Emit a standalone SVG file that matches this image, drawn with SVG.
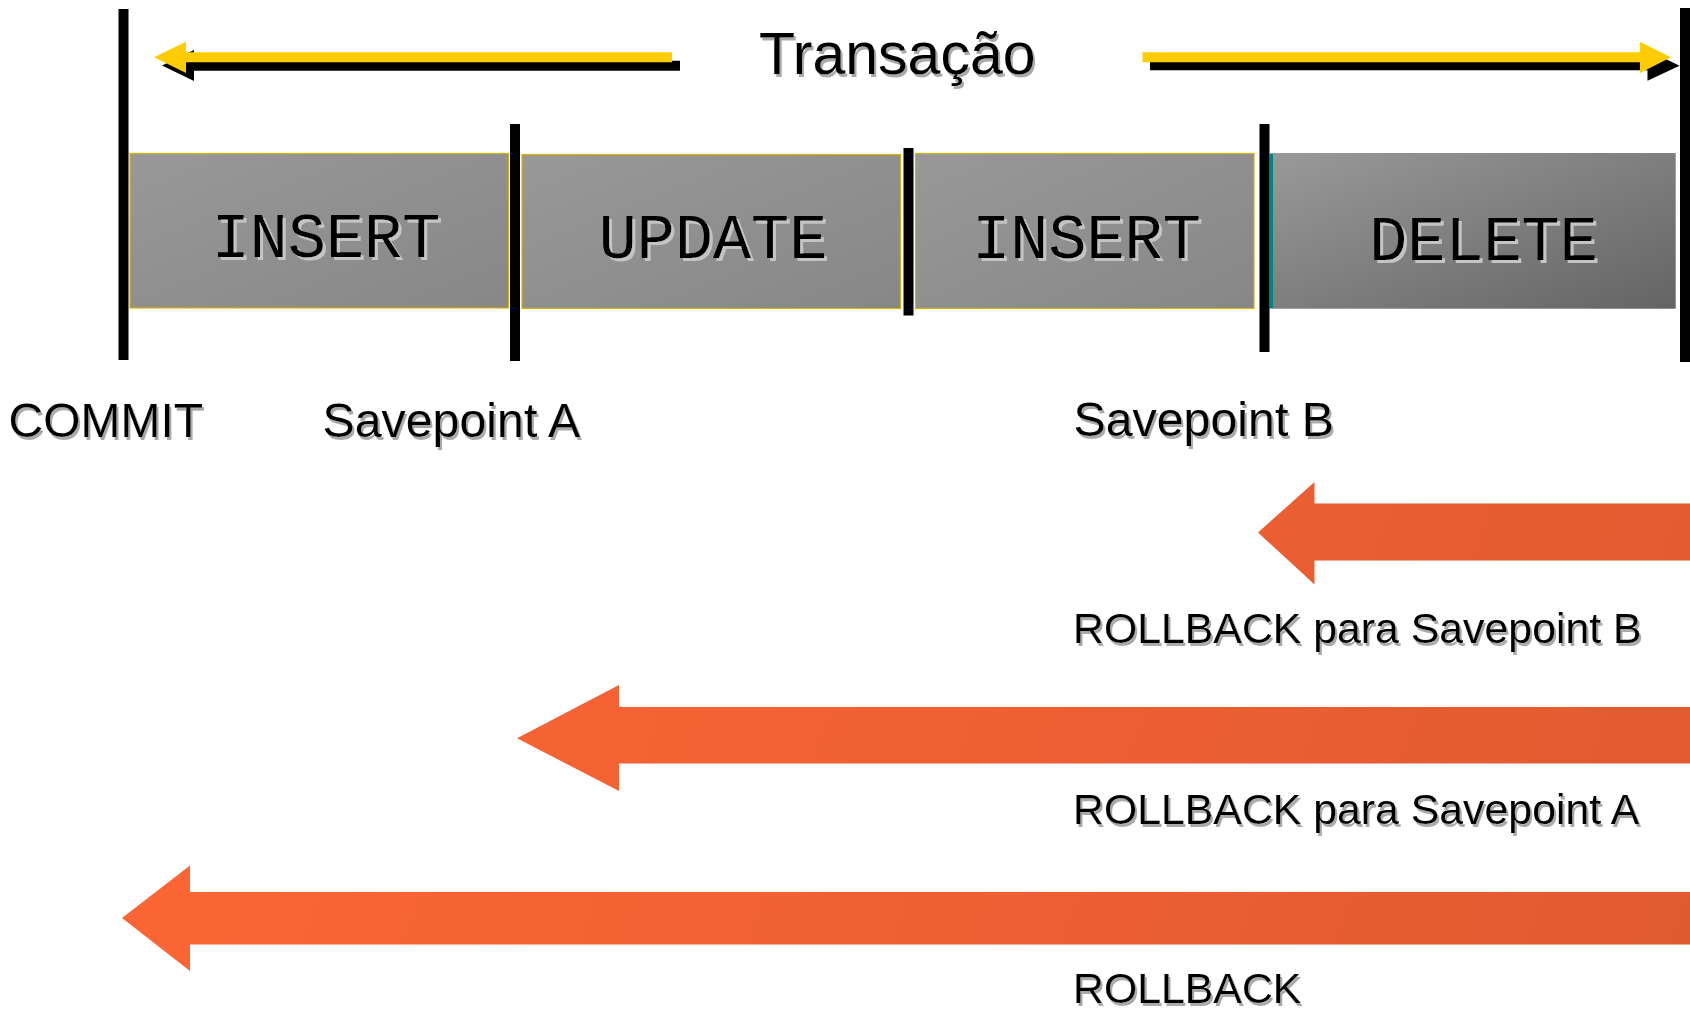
<svg xmlns="http://www.w3.org/2000/svg" width="1690" height="1010" viewBox="0 0 1690 1010">
<defs>
<linearGradient id="gBox" x1="0" y1="0" x2="1" y2="1">
<stop offset="0" stop-color="#989898"/>
<stop offset="1" stop-color="#878787"/>
</linearGradient>
<linearGradient id="gDel" x1="0" y1="0" x2="1" y2="1">
<stop offset="0" stop-color="#999999"/>
<stop offset="1" stop-color="#646464"/>
</linearGradient>
<linearGradient id="gOr" gradientUnits="userSpaceOnUse" x1="100" y1="450" x2="1690" y2="1010">
<stop offset="0" stop-color="#ff6735"/>
<stop offset="1" stop-color="#e05a30"/>
</linearGradient>
<filter id="sh" x="-5%" y="-20%" width="110%" height="150%">
<feOffset in="SourceAlpha" dx="2" dy="2.5" result="o"/>
<feFlood flood-color="#aaaaaa"/>
<feComposite in2="o" operator="in"/>
<feMerge><feMergeNode/><feMergeNode in="SourceGraphic"/></feMerge>
</filter>
<filter id="shb" x="-5%" y="-20%" width="110%" height="150%">
<feOffset in="SourceAlpha" dx="3" dy="3" result="o"/>
<feFlood flood-color="#c4c4c4"/>
<feComposite in2="o" operator="in"/>
<feMerge><feMergeNode/><feMergeNode in="SourceGraphic"/></feMerge>
</filter>
</defs>
<style>
.bar{fill:#000}
.box{fill:url(#gBox);stroke:#d9b300;stroke-width:1.2}
.mono{font-family:"Liberation Mono","DejaVu Sans Mono",monospace;font-size:63.5px;fill:#000;text-anchor:middle;filter:url(#shb)}
.lbl{font-family:"Liberation Sans",Arial,sans-serif;fill:#000;filter:url(#sh)}
.yel{fill:#ffcc00}
.blk{fill:#000}
.org{fill:url(#gOr)}
</style>
<rect width="1690" height="1010" fill="#fff"/>

<g id="connectors">
<g id="transacao-left">
<polygon class="blk" points="162,65.5 194,50 194,60.8 680,60.8 680,70.8 194,70.8 194,81"/>
<polygon class="yel" points="154,57.3 186,41.7 186,52.3 672,52.3 672,62.3 186,62.3 186,73"/>
</g>
<g id="transacao-right">
<polygon class="blk" points="1150,60.3 1647.5,60.3 1647.5,50 1679.5,65.7 1647.5,80.7 1647.5,70.3 1150,70.3"/>
<polygon class="yel" points="1142.5,52.3 1640,52.3 1640,41.7 1671,57.3 1640,73 1640,62.3 1142.5,62.3"/>
</g>
<polygon id="rollback-b" class="org" points="1258,532.5 1314.5,482 1314.5,503.5 1690,503.5 1690,560.5 1314.5,560.5 1314.5,584.5"/>
<polygon id="rollback-a" class="org" points="517,738.3 619,685 619,707 1690,707 1690,763.5 619,763.5 619,791"/>
<polygon id="rollback" class="org" points="122,918 190,865.5 190,892 1690,892 1690,944.5 190,944.5 190,971"/>
</g>

<g id="box-insert1">
<rect class="box" x="130" y="153.5" width="378.5" height="154.5"/>
<text class="mono" x="326" y="257">INSERT</text>
</g>
<g id="box-update">
<rect class="box" x="522" y="154.5" width="378.5" height="154"/>
<text class="mono" x="713" y="258">UPDATE</text>
</g>
<g id="box-insert2">
<rect class="box" x="915.5" y="153.5" width="338.5" height="155"/>
<text class="mono" x="1086.5" y="258">INSERT</text>
</g>
<g id="box-delete">
<rect x="1269.5" y="153.5" width="4" height="155" fill="#008080"/>
<rect x="1273" y="153" width="402.7" height="155.7" fill="url(#gDel)"/>
<text class="mono" x="1483.5" y="260">DELETE</text>
</g>

<g id="commit">
<rect class="bar" x="118.5" y="9" width="10" height="351"/>
<text class="lbl" x="8.5" y="436.5" font-size="48">COMMIT</text>
</g>
<g id="savepoint-a">
<rect class="bar" x="510" y="124" width="10" height="237"/>
<text class="lbl" x="322.5" y="436.5" font-size="48.3">Savepoint A</text>
</g>
<g id="separator">
<rect class="bar" x="903.5" y="148" width="10" height="167.5"/>
</g>
<g id="savepoint-b">
<rect class="bar" x="1259.5" y="124" width="10" height="228"/>
<text class="lbl" x="1073.5" y="436" font-size="48.3">Savepoint B</text>
</g>
<g id="end">
<rect class="bar" x="1680" y="8" width="10" height="354"/>
</g>

<g id="title">
<text class="lbl" x="759" y="74" font-size="59">Transação</text>
</g>
<g id="labels">
<text class="lbl" x="1073" y="643" font-size="42.8">ROLLBACK para Savepoint B</text>
<text class="lbl" x="1073" y="823.5" font-size="42.8">ROLLBACK para Savepoint A</text>
<text class="lbl" x="1073" y="1003" font-size="42.8">ROLLBACK</text>
</g>
</svg>
